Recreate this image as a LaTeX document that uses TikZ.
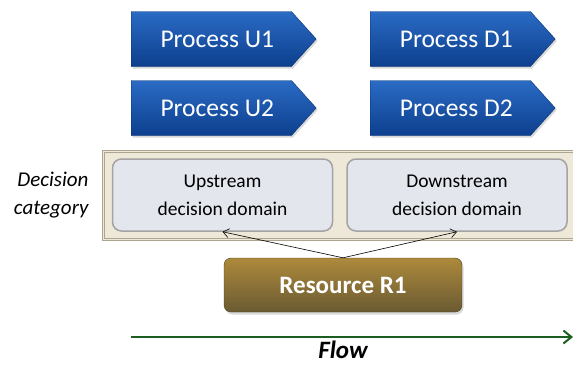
\documentclass[tikz,border=0pt]{standalone}
\usepackage{fontspec}
\setmainfont{Carlito}
\usetikzlibrary{shapes.symbols,shadows,arrows.meta}
\definecolor{procTop}{HTML}{2A6BC4}
\definecolor{procBot}{HTML}{0D3F8E}
\definecolor{domFill}{HTML}{E3E6ED}
\definecolor{domLine}{HTML}{A3A3A3}
\definecolor{bandFill}{HTML}{EEE8D8}
\definecolor{bandLine}{HTML}{ADA58F}
\definecolor{resTop}{HTML}{AD8A3C}
\definecolor{resBot}{HTML}{6A5A32}
\definecolor{flowGreen}{HTML}{1B5E20}
\tikzset{
  procarrow/.style={signal, signal to=east, signal pointer angle=96,
    minimum width=185pt, minimum height=55pt, inner sep=0pt, anchor=west,
    top color=procTop, bottom color=procBot, draw=procBot!80!black, line width=0.4pt,
    drop shadow={shadow xshift=1.5pt, shadow yshift=-2pt, opacity=0.3},
    text=white, font=\fontsize{25.5}{27}\selectfont, text depth=0pt},
  dombox/.style={rectangle, rounded corners=9pt, fill=domFill, draw=domLine, line width=1.5pt,
    minimum width=220pt, minimum height=72pt, align=center,
    font=\fontsize{19.5}{28}\selectfont},
  resbox/.style={rectangle, rounded corners=7pt, top color=resTop, bottom color=resBot,
    draw=resBot!70!black, line width=0.4pt, minimum width=238pt, minimum height=54pt,
    drop shadow={shadow xshift=1.5pt, shadow yshift=-2.5pt, opacity=0.3},
    text=white, font=\bfseries\fontsize{25}{27}\selectfont},
  linkarrow/.style={-{Straight Barb[length=6pt,width=9pt]}, line width=0.6pt, black},
}
\begin{document}
\begin{tikzpicture}[x=1pt,y=-1pt]
\useasboundingbox (0,0) rectangle (573,365);
% process chevrons
\node[procarrow] (u1) at (131,39) {\hspace*{12pt}Process U1};
\node[procarrow] (u2) at (131,108) {\hspace*{12pt}Process U2};
\node[procarrow] (d1) at (370,39) {\hspace*{12pt}Process D1};
\node[procarrow] (d2) at (370,108) {\hspace*{12pt}Process D2};
% decision band
\node[rectangle, fill=bandFill, draw=bandLine, double=bandFill, double distance=1.5pt,
  line width=1pt, minimum width=478pt, minimum height=88pt, anchor=north west,
  inner sep=0pt] (band) at (103,151) {};
\node[dombox] (up) at (222.5,195) {Upstream\\decision domain};
\node[dombox] (down) at (457,195) {Downstream\\decision domain};
\node[align=right, anchor=east, font=\itshape\fontsize{21}{28}\selectfont] (cat) at (92,195)
  {Decision\\category};
% resource
\node[resbox] (res) at (343,285) {Resource R1};
\draw[linkarrow] (res.north) -- (up.south);
\draw[linkarrow] (res.north) -- (down.south);
% flow axis
\coordinate (fs) at (131,337);
\coordinate (fe) at (573,337);
\draw[flowGreen, line width=2pt, -{Straight Barb[length=8pt,width=13pt]}] (fs) -- (fe);
\node[font=\bfseries\itshape\fontsize{25}{27}\selectfont, anchor=base, text depth=0pt,
  inner sep=1pt] (flow) at (343,358) {Flow};
\end{tikzpicture}
\end{document}
